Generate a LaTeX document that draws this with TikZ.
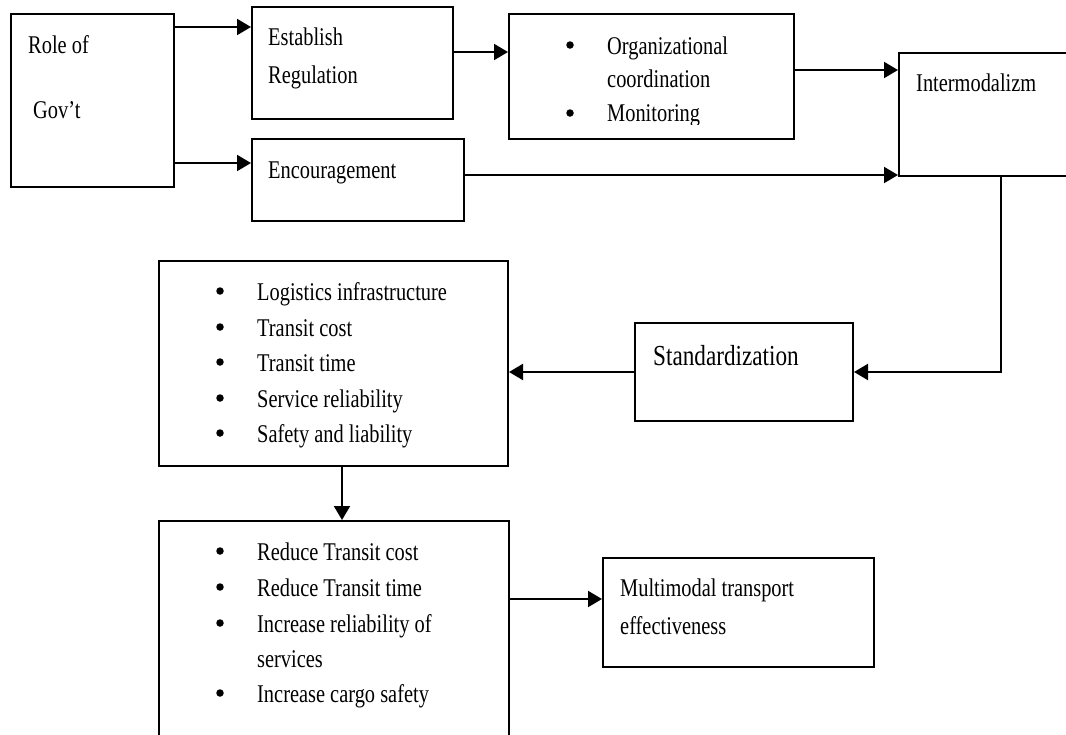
\documentclass[tikz,border=0pt]{standalone}
\usepackage{fontspec}
\setmainfont{Liberation Serif}[FakeStretch=0.8]
\usetikzlibrary{arrows.meta}
\begin{document}
\begin{tikzpicture}[x=1pt,y=-1pt,
  box/.style={draw, line width=2pt, rectangle, anchor=north west, inner sep=0pt},
  conn/.style={line width=2pt, -{Triangle[length=14pt,width=16pt]}},
  txt/.style={anchor=base west, inner sep=0pt, font=\fontsize{25.5}{30}\selectfont},
  big/.style={anchor=base west, inner sep=0pt, font=\fontsize{29}{34}\selectfont},
  bul/.style={fill, circle, inner sep=0pt, minimum size=7.5pt}]
\useasboundingbox (0,0) rectangle (1066,734);
% boxes
\node[box, minimum width=163pt, minimum height=173pt] (role) at (10,13) {};
\node[box, minimum width=201pt, minimum height=112pt] (estab) at (251,6) {};
\node[box, minimum width=212pt, minimum height=82pt] (enc) at (251,138) {};
\node[box, minimum width=285pt, minimum height=125pt] (org) at (508,13) {};
\node[box, minimum width=220pt, minimum height=123pt] (inter) at (898,52) {};
\node[box, minimum width=218pt, minimum height=98pt] (std) at (634,322) {};
\node[box, minimum width=349pt, minimum height=205pt] (list1) at (158,260) {};
\node[box, minimum width=350pt, minimum height=240pt] (list2) at (158,520) {};
\node[box, minimum width=271pt, minimum height=109pt] (multi) at (602,557) {};
% texts
\node[txt] (t1) at (28,53) {Role of};
\node[txt] (t2) at (33,118) {Gov’t};
\node[txt] (t3) at (268,45) {Establish};
\node[txt] (t4) at (268,83) {Regulation};
\node[txt] (t5) at (268,178) {Encouragement};
\node[bul] (b1) at (570,45) {};
\node[txt] (t6) at (607,54) {Organizational};
\node[txt] (t7) at (607,87) {coordination};
\begin{scope}
\clip (508,13) rectangle (793,124);
\node[bul] (b2) at (570,113) {};
\node[txt] (t8) at (607,121) {Monitoring};
\end{scope}
\node[txt] (t9) at (916,91) {Intermodalizm};
\node[big] (t10) at (653,365) {Standardization};
% list 1
\foreach \y/\s [count=\i] in {300/Logistics infrastructure,336/Transit cost,371/Transit time,407/Service reliability,442/Safety and liability}{
  \node[bul] (la\i) at (220,\y-9) {};
  \node[txt] (lt\i) at (257,\y) {\s};
}
% list 2
\foreach \y/\s [count=\i] in {560/Reduce Transit cost,596/Reduce Transit time,632/Increase reliability of,702/Increase cargo safety}{
  \node[bul] (ma\i) at (220,\y-9) {};
  \node[txt] (mt\i) at (257,\y) {\s};
}
\node[txt] (mt5) at (257,667) {services};
\node[txt] (u1) at (620,596) {Multimodal transport};
\node[txt] (u2) at (620,634) {effectiveness};
% connectors
\draw[conn] (role.east |- 0,27) -- (estab.west |- 0,27);
\draw[conn] (role.east |- 0,163) -- (enc.west |- 0,163);
\draw[conn] (estab.east |- 0,52) -- (org.west |- 0,52);
\draw[conn] (org.east |- 0,70) -- (inter.west |- 0,70);
\draw[conn] (enc.east |- 0,175) -- (inter.west |- 0,175);
\draw[conn] (inter.south -| 1001,0) |- (std.east);
\draw[conn] (std.west) -- (list1.east |- std.west);
\draw[conn] (list1.south -| 342,0) -- (list2.north -| 342,0);
\draw[conn] (list2.east |- 0,599) -- (multi.west |- 0,599);
\end{tikzpicture}
\end{document}
